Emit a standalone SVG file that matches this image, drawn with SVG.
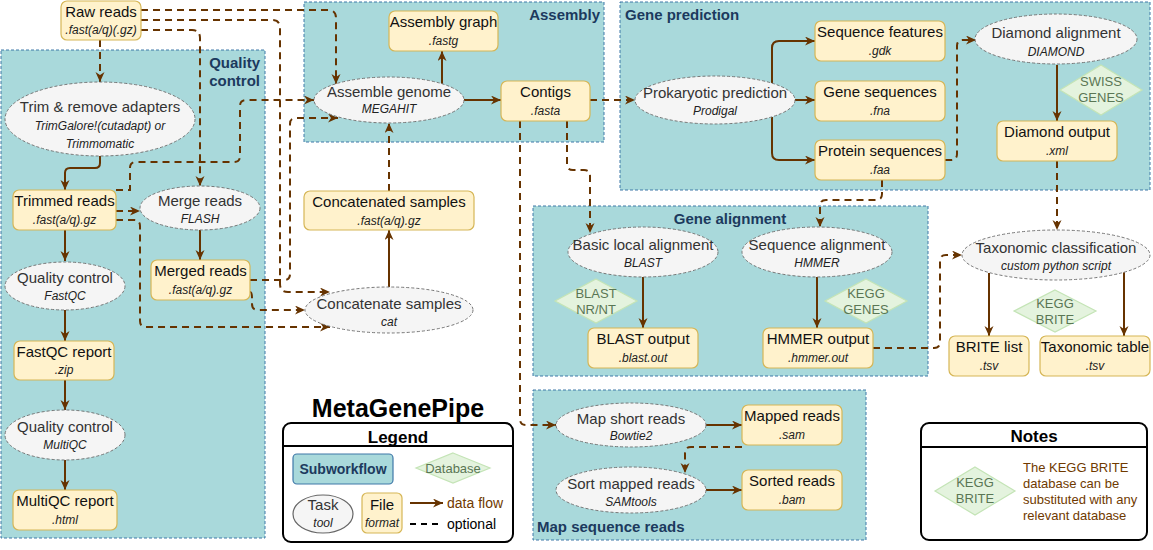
<svg xmlns="http://www.w3.org/2000/svg" width="1153" height="550" viewBox="0 0 1153 550">
<style>
text{font-family:"Liberation Sans",Arial,sans-serif;}
.grp{fill:#A9D9DB;stroke:#3F78A8;stroke-width:1;stroke-dasharray:3 2;}
.gl{font-size:15px;font-weight:bold;fill:#1C3A5E;}
.file{fill:#FFF2CC;stroke:#D6B656;stroke-width:1.2;}
.task{fill:#F5F5F5;stroke:#777;stroke-width:1;stroke-dasharray:3 2;}
.db{fill:#E4F3DE;stroke:#C4E4B6;stroke-width:1.2;}
.t{font-size:15px;fill:#111;text-anchor:middle;}
.tt{font-size:15px;fill:#333;text-anchor:middle;}
.s{font-size:12px;font-style:italic;fill:#222;text-anchor:middle;}
.dbt{font-size:13px;fill:#5A7654;text-anchor:middle;}
.solid{fill:none;stroke:#663300;stroke-width:2;marker-end:url(#ah);}
.dash{fill:none;stroke:#663300;stroke-width:2;stroke-dasharray:7 5;marker-end:url(#ah);}
.box{fill:#fff;stroke:#000;stroke-width:2;}
</style>
<defs>
<marker id="ah" markerUnits="userSpaceOnUse" markerWidth="12" markerHeight="10" refX="10" refY="4.5" orient="auto">
<path d="M0,0 L10,4.5 L0,9 L3,4.5 Z" fill="#663300"/>
</marker>
</defs>

<!-- Group containers -->
<g id="grp-quality-control">
<rect class="grp" x="1" y="50" width="264" height="488"/>
<text class="gl" x="260" y="68" text-anchor="end">Quality</text>
<text class="gl" x="260" y="86" text-anchor="end">control</text>
</g>
<g id="grp-assembly">
<rect class="grp" x="304" y="2" width="300" height="140"/>
<text class="gl" x="600" y="20" text-anchor="end">Assembly</text>
</g>
<g id="grp-gene-prediction">
<rect class="grp" x="620" y="2" width="530" height="188"/>
<text class="gl" x="625" y="20">Gene prediction</text>
</g>
<g id="grp-gene-alignment">
<rect class="grp" x="533" y="206" width="395" height="170"/>
<text class="gl" x="730" y="224" text-anchor="middle">Gene alignment</text>
</g>
<g id="grp-map-reads">
<rect class="grp" x="533" y="390" width="333" height="150"/>
<text class="gl" x="537" y="532">Map sequence reads</text>
</g>

<!-- Connectors -->
<g id="connectors">
<!-- solid data flow -->
<path class="solid" d="M100,156 L100,163 Q100,168 95,168 L70,168 Q65,168 65,173 L65,190"/>
<path class="solid" d="M65,230 L65,261"/>
<path class="solid" d="M65,310 L65,341"/>
<path class="solid" d="M65,380 L65,410"/>
<path class="solid" d="M65,460 L65,490"/>
<path class="solid" d="M200,230 L200,260"/>
<path class="solid" d="M442,84 L442,51"/>
<path class="solid" d="M464,100 L501,100"/>
<path class="solid" d="M389,287 L389,230"/>
<path class="solid" d="M772,83 L772,48 Q772,41 779,41 L815,41"/>
<path class="solid" d="M795,100 L815,100"/>
<path class="solid" d="M772,117 L772,153 Q772,160 779,160 L815,160"/>
<path class="solid" d="M1057,65 L1057,121"/>
<path class="solid" d="M643,277 L643,328"/>
<path class="solid" d="M817,277 L817,328"/>
<path class="solid" d="M989,273 L989,336"/>
<path class="solid" d="M1124,272 L1124,336"/>
<path class="solid" d="M706,425 L742,425"/>
<path class="solid" d="M706,490 L742,490"/>
<!-- dashed optional -->
<path class="dash" d="M100,40 L100,82"/>
<path class="dash" d="M141,10 L328,10 Q336,10 336,18 L336,84"/>
<path class="dash" d="M141,20 L272,20 Q280,20 280,28 L280,284 Q280,292 288,292 L330,292"/>
<path class="dash" d="M141,30 L192,30 Q200,30 200,38 L200,186"/>
<path class="dash" d="M116,190 L130,190 L130,168 Q130,162 136,162 L234,162 Q240,162 240,156 L240,106 Q240,100 246,100 L314,100"/>
<path class="dash" d="M116,211 L140,211"/>
<path class="dash" d="M116,220 L134,220 Q140,220 140,226 L140,321 Q140,327 146,327 L330,327"/>
<path class="dash" d="M250,280 L284,280 Q290,280 290,274 L290,124 Q290,118 296,118 L338,118"/>
<path class="dash" d="M250,292 Q252,292 252,298 L252,304 Q252,310 258,310 L305,310"/>
<path class="dash" d="M389,191 L389,123"/>
<path class="dash" d="M590,100 L635,100"/>
<path class="dash" d="M567,121 L567,164 Q567,170 573,170 L584,170 Q590,170 590,176 L590,233"/>
<path class="dash" d="M520,121 L520,419 Q520,425 526,425 L556,425"/>
<path class="dash" d="M882,180 L882,194 Q882,200 876,200 L826,200 Q820,200 820,206 L820,227"/>
<path class="dash" d="M945,160 L951,160 Q957,160 957,154 L957,46 Q957,40 963,40 L976,40"/>
<path class="dash" d="M1057,161 L1057,230"/>
<path class="dash" d="M873,348 L934,348 Q940,348 940,342 L940,261 Q940,255 946,255 L962,255"/>
<path class="dash" d="M742,447 L691,447 Q685,447 685,453 L685,473"/>
</g>

<!-- Quality control nodes -->
<g id="raw-reads"><rect class="file" x="61" y="1" width="80" height="39" rx="6"/><text class="t" x="101" y="17">Raw reads</text><text class="s" x="101" y="34">.fast(a/q)(.gz)</text></g>
<g id="trim"><ellipse class="task" cx="100" cy="119" rx="95" ry="37"/><text class="tt" x="100" y="112">Trim &amp; remove adapters</text><text class="s" x="100" y="130">TrimGalore!(cutadapt) or</text><text class="s" x="100" y="148">Trimmomatic</text></g>
<g id="trimmed-reads"><rect class="file" x="13" y="190" width="103" height="40" rx="6"/><text class="t" x="64.5" y="206">Trimmed reads</text><text class="s" x="64.5" y="224">.fast(a/q).gz</text></g>
<g id="merge-reads"><ellipse class="task" cx="200" cy="208" rx="60" ry="22"/><text class="tt" x="200" y="206">Merge reads</text><text class="s" x="200" y="223">FLASH</text></g>
<g id="merged-reads"><rect class="file" x="151" y="260" width="99" height="40" rx="6"/><text class="t" x="200.5" y="276">Merged reads</text><text class="s" x="200.5" y="294">.fast(a/q).gz</text></g>
<g id="qc-fastqc"><ellipse class="task" cx="65" cy="286" rx="60" ry="24"/><text class="tt" x="65" y="283">Quality control</text><text class="s" x="65" y="300">FastQC</text></g>
<g id="fastqc-report"><rect class="file" x="14" y="341" width="100" height="39" rx="6"/><text class="t" x="64" y="357">FastQC report</text><text class="s" x="64" y="374">.zip</text></g>
<g id="qc-multiqc"><ellipse class="task" cx="65" cy="435" rx="60" ry="25"/><text class="tt" x="65" y="432">Quality control</text><text class="s" x="65" y="449">MultiQC</text></g>
<g id="multiqc-report"><rect class="file" x="13" y="490" width="104" height="40" rx="6"/><text class="t" x="65" y="506">MultiQC report</text><text class="s" x="65" y="524">.html</text></g>

<!-- Assembly nodes -->
<g id="assembly-graph"><rect class="file" x="389" y="11" width="109" height="40" rx="6"/><text class="t" x="443.5" y="27">Assembly graph</text><text class="s" x="443.5" y="45">.fastg</text></g>
<g id="assemble-genome"><ellipse class="task" cx="389" cy="100" rx="75" ry="23"/><text class="tt" x="389" y="97">Assemble genome</text><text class="s" x="389" y="113">MEGAHIT</text></g>
<g id="contigs"><rect class="file" x="501" y="81" width="89" height="40" rx="6"/><text class="t" x="545.5" y="97">Contigs</text><text class="s" x="545.5" y="115">.fasta</text></g>
<g id="concatenated-samples"><rect class="file" x="304" y="191" width="170" height="39" rx="6"/><text class="t" x="389" y="207">Concatenated samples</text><text class="s" x="389" y="225">.fast(a/q).gz</text></g>
<g id="concatenate-samples"><ellipse class="task" cx="389" cy="310" rx="84" ry="23"/><text class="tt" x="389" y="309">Concatenate samples</text><text class="s" x="389" y="326">cat</text></g>

<!-- Gene prediction nodes -->
<g id="prokaryotic-prediction"><ellipse class="task" cx="715" cy="100" rx="80" ry="24"/><text class="tt" x="715" y="98">Prokaryotic prediction</text><text class="s" x="715" y="115">Prodigal</text></g>
<g id="sequence-features"><rect class="file" x="815" y="21" width="130" height="40" rx="6"/><text class="t" x="880" y="37">Sequence features</text><text class="s" x="880" y="55">.gdk</text></g>
<g id="gene-sequences"><rect class="file" x="815" y="81" width="130" height="40" rx="6"/><text class="t" x="880" y="97">Gene sequences</text><text class="s" x="880" y="115">.fna</text></g>
<g id="protein-sequences"><rect class="file" x="815" y="140" width="130" height="40" rx="6"/><text class="t" x="880" y="156">Protein sequences</text><text class="s" x="880" y="174">.faa</text></g>
<g id="diamond-alignment"><ellipse class="task" cx="1056" cy="39" rx="81" ry="25"/><text class="tt" x="1056" y="38">Diamond alignment</text><text class="s" x="1056" y="56">DIAMOND</text></g>
<g id="swiss-genes"><polygon class="db" points="1101,65 1142,90 1101,115 1060,90"/><text class="dbt" x="1101" y="86">SWISS</text><text class="dbt" x="1101" y="102">GENES</text></g>
<g id="diamond-output"><rect class="file" x="997" y="121" width="120" height="40" rx="6"/><text class="t" x="1057" y="137">Diamond output</text><text class="s" x="1057" y="155">.xml</text></g>

<!-- Gene alignment nodes -->
<g id="basic-local-alignment"><ellipse class="task" cx="643" cy="252" rx="75" ry="25"/><text class="tt" x="643" y="250">Basic local alignment</text><text class="s" x="643" y="267">BLAST</text></g>
<g id="blast-nr-nt"><polygon class="db" points="596,279 637,301 596,323 555,301"/><text class="dbt" x="596" y="298">BLAST</text><text class="dbt" x="596" y="314">NR/NT</text></g>
<g id="blast-output"><rect class="file" x="588" y="328" width="110" height="40" rx="6"/><text class="t" x="643" y="344">BLAST output</text><text class="s" x="643" y="362">.blast.out</text></g>
<g id="sequence-alignment"><ellipse class="task" cx="817" cy="252" rx="75" ry="25"/><text class="tt" x="817" y="250">Sequence alignment</text><text class="s" x="817" y="267">HMMER</text></g>
<g id="kegg-genes"><polygon class="db" points="866,279 907,301 866,323 825,301"/><text class="dbt" x="866" y="298">KEGG</text><text class="dbt" x="866" y="314">GENES</text></g>
<g id="hmmer-output"><rect class="file" x="763" y="328" width="110" height="40" rx="6"/><text class="t" x="818" y="344">HMMER output</text><text class="s" x="818" y="362">.hmmer.out</text></g>

<!-- Taxonomic classification -->
<g id="taxonomic-classification"><ellipse class="task" cx="1056" cy="255" rx="94" ry="25"/><text class="tt" x="1056" y="253">Taxonomic classification</text><text class="s" x="1056" y="270">custom python script</text></g>
<g id="kegg-brite"><polygon class="db" points="1055,290 1096,311 1055,332 1014,311"/><text class="dbt" x="1055" y="308">KEGG</text><text class="dbt" x="1055" y="324">BRITE</text></g>
<g id="brite-list"><rect class="file" x="949" y="336" width="80" height="40" rx="6"/><text class="t" x="989" y="352">BRITE list</text><text class="s" x="989" y="370">.tsv</text></g>
<g id="taxonomic-table"><rect class="file" x="1040" y="336" width="110" height="40" rx="6"/><text class="t" x="1095" y="352">Taxonomic table</text><text class="s" x="1095" y="370">.tsv</text></g>

<!-- Map sequence reads nodes -->
<g id="map-short-reads"><ellipse class="task" cx="631" cy="425" rx="75" ry="22"/><text class="tt" x="631" y="424">Map short reads</text><text class="s" x="631" y="440">Bowtie2</text></g>
<g id="mapped-reads"><rect class="file" x="742" y="405" width="100" height="40" rx="6"/><text class="t" x="792" y="421">Mapped reads</text><text class="s" x="792" y="439">.sam</text></g>
<g id="sort-mapped-reads"><ellipse class="task" cx="631" cy="490" rx="75" ry="23"/><text class="tt" x="631" y="489">Sort mapped reads</text><text class="s" x="631" y="506">SAMtools</text></g>
<g id="sorted-reads"><rect class="file" x="742" y="470" width="100" height="40" rx="6"/><text class="t" x="792" y="486">Sorted reads</text><text class="s" x="792" y="504">.bam</text></g>

<!-- Title and legend -->
<g id="title"><text x="398" y="417" font-size="25" font-weight="bold" text-anchor="middle" fill="#000">MetaGenePipe</text></g>
<g id="legend">
<rect class="box" x="283" y="423" width="230" height="119" rx="8"/>
<line x1="283" y1="446" x2="513" y2="446" stroke="#000" stroke-width="2"/>
<text x="398" y="443" font-size="17" font-weight="bold" text-anchor="middle" fill="#000">Legend</text>
<rect x="293" y="454" width="100" height="30" rx="4" fill="#A9D9DB" stroke="#3F78A8" stroke-width="1.2"/>
<text x="343" y="474" font-size="14" font-weight="bold" text-anchor="middle" fill="#1C3A5E">Subworkflow</text>
<polygon class="db" points="453,453 490,468 453,483 416,468"/>
<text class="dbt" x="453" y="473">Database</text>
<ellipse cx="323" cy="514" rx="30" ry="19" fill="#F5F5F5" stroke="#666" stroke-width="1.2"/>
<text class="tt" x="323" y="510">Task</text>
<text class="s" x="323" y="527">tool</text>
<rect class="file" x="362" y="493" width="40" height="40" rx="5"/>
<text class="t" x="382" y="510">File</text>
<text class="s" x="382" y="527">format</text>
<path class="solid" d="M410,503 L443,503"/>
<text x="447" y="508" font-size="14" fill="#703A00">data flow</text>
<line x1="410" y1="524" x2="443" y2="524" stroke="#000" stroke-width="2" stroke-dasharray="6 5"/>
<text x="447" y="529" font-size="14" fill="#000">optional</text>
</g>

<!-- Notes -->
<g id="notes">
<rect class="box" x="921" y="423" width="226" height="117" rx="8"/>
<line x1="921" y1="447" x2="1147" y2="447" stroke="#000" stroke-width="2"/>
<text x="1034" y="442" font-size="17" font-weight="bold" text-anchor="middle" fill="#000">Notes</text>
<polygon class="db" points="975,467 1015,491 975,515 935,491"/>
<text class="dbt" x="975" y="487">KEGG</text>
<text class="dbt" x="975" y="503">BRITE</text>
<text x="1023" y="472" font-size="13" fill="#703A00">The KEGG BRITE</text>
<text x="1023" y="488" font-size="13" fill="#703A00">database can be</text>
<text x="1023" y="504" font-size="13" fill="#703A00">substituted with any</text>
<text x="1023" y="520" font-size="13" fill="#703A00">relevant database</text>
</g>
</svg>
